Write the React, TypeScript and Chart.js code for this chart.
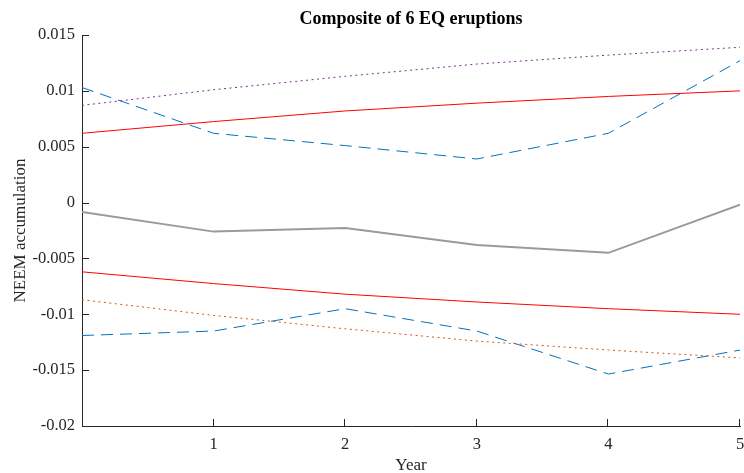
import React, { useEffect, useRef } from "react";
import { Chart, registerables } from "chart.js";

Chart.register(...registerables);

const years = [0, 1, 2, 3, 4, 5];
const compositeMean = [-0.00084, -0.0026, -0.00227, -0.0038, -0.0045, -0.0002];
const upperDashed = [0.0103, 0.0062, 0.0051, 0.0039, 0.0062, 0.0127];
const lowerDashed = [-0.0119, -0.0115, -0.0095, -0.0115, -0.01535, -0.0132];
const redUpper = [0.0062, 0.00725, 0.0082, 0.0089, 0.0095, 0.01];
const redLower = [-0.0062, -0.00725, -0.0082, -0.0089, -0.0095, -0.01];
const purpleUpper = [0.0087, 0.0101, 0.0113, 0.0124, 0.0132, 0.0139];
const orangeLower = [-0.0087, -0.0101, -0.0113, -0.0124, -0.0132, -0.0139];

const xTicks = [1, 2, 3, 4, 5];
const yTicks = [-0.02, -0.015, -0.01, -0.005, 0, 0.005, 0.01, 0.015];
const yTickLabels = ["-0.02", "-0.015", "-0.01", "-0.005", "0", "0.005", "0.01", "0.015"];

const titleText = "Composite of 6 EQ eruptions";
const xTitle = "Year";
const yTitle = "NEEM accumulation";

const AXIS_COLOR = "#262626";
const SERIF = "'Liberation Serif', 'Times New Roman', serif";

const pts = (ys: number[]) => years.map((x, i) => ({ x, y: ys[i] }));

export default function App() {
  const ref = useRef<HTMLCanvasElement | null>(null);

  useEffect(() => {
    if (!ref.current) return;

    const insideTicks = {
      id: "insideTicks",
      afterDraw(chart: any) {
        const ctx = chart.ctx;
        const xs = chart.scales.x;
        const ys = chart.scales.y;
        const area = chart.chartArea;
        ctx.save();
        ctx.strokeStyle = AXIS_COLOR;
        ctx.lineWidth = 1;
        ctx.beginPath();
        yTicks.forEach((v) => {
          const py = Math.round(ys.getPixelForValue(v)) + 0.5;
          ctx.moveTo(area.left, py);
          ctx.lineTo(area.left + 7, py);
        });
        xTicks.forEach((v) => {
          const px = Math.round(xs.getPixelForValue(v)) - 0.5;
          ctx.moveTo(px, area.bottom);
          ctx.lineTo(px, area.bottom - 7);
        });
        ctx.stroke();
        // title
        ctx.fillStyle = "#000";
        ctx.font = "bold 18px " + SERIF;
        ctx.textAlign = "center";
        ctx.textBaseline = "middle";
        ctx.fillText(titleText, (area.left + area.right) / 2, 19);
        ctx.restore();
      },
    };

    const chart = new Chart(ref.current, {
      type: "line",
      data: {
        datasets: [
          {
            label: "upper dotted",
            data: pts(purpleUpper),
            borderColor: "#7E2F8E",
            borderWidth: 1,
            borderDash: [2, 3.5],
            pointRadius: 0,
            fill: false,
          },
          {
            label: "lower dotted",
            data: pts(orangeLower),
            borderColor: "#D95319",
            borderWidth: 1,
            borderDash: [2, 3.5],
            pointRadius: 0,
            fill: false,
          },
          {
            label: "upper red",
            data: pts(redUpper),
            borderColor: "#FF0000",
            borderWidth: 1,
            pointRadius: 0,
            fill: false,
          },
          {
            label: "lower red",
            data: pts(redLower),
            borderColor: "#FF0000",
            borderWidth: 1,
            pointRadius: 0,
            fill: false,
          },
          {
            label: "upper dashed",
            data: pts(upperDashed),
            borderColor: "#0072BD",
            borderWidth: 1,
            borderDash: [12, 7],
            pointRadius: 0,
            fill: false,
          },
          {
            label: "lower dashed",
            data: pts(lowerDashed),
            borderColor: "#0072BD",
            borderWidth: 1,
            borderDash: [12, 7],
            pointRadius: 0,
            fill: false,
          },
          {
            label: "composite",
            data: pts(compositeMean),
            borderColor: "#9a9a9a",
            borderWidth: 2,
            pointRadius: 0,
            fill: false,
          },
        ],
      },
      options: {
        responsive: false,
        animation: false,
        layout: { padding: { top: 35, right: 4, bottom: 0, left: 0 } },
        plugins: {
          legend: { display: false },
          title: { display: false },
          tooltip: { enabled: false },
        },
        scales: {
          x: {
            type: "linear",
            min: 0,
            max: 5,
            grid: { display: false, drawTicks: false, tickLength: 0 },
            border: { display: true, color: AXIS_COLOR, width: 1 },
            afterBuildTicks: (s: any) => {
              s.ticks = xTicks.map((v) => ({ value: v }));
            },
            afterFit: (s: any) => {
              s.height = 47;
              s.paddingLeft = 0;
              s.paddingRight = 0;
            },
            ticks: {
              color: AXIS_COLOR,
              font: { family: SERIF, size: 16.5 },
              padding: 9,
              maxRotation: 0,
              callback: (v: any) => String(v),
            },
            title: {
              display: true,
              text: xTitle,
              color: AXIS_COLOR,
              font: { family: SERIF, size: 17 },
              padding: { top: 0, bottom: -3 },
            },
          },
          y: {
            type: "linear",
            min: -0.02,
            max: 0.015,
            grid: { display: false, drawTicks: false, tickLength: 0 },
            border: { display: true, color: AXIS_COLOR, width: 1 },
            afterBuildTicks: (s: any) => {
              s.ticks = yTicks.map((v) => ({ value: v }));
            },
            afterFit: (s: any) => {
              s.width = 82;
              s.paddingTop = 0;
              s.paddingBottom = 0;
            },
            ticks: {
              color: AXIS_COLOR,
              font: { family: SERIF, size: 16.5 },
              padding: 7,
              callback: (v: any) => {
                const i = yTicks.findIndex((t) => Math.abs(t - Number(v)) < 1e-9);
                return i >= 0 ? yTickLabels[i] : "";
              },
            },
            title: {
              display: true,
              text: yTitle,
              color: AXIS_COLOR,
              font: { family: SERIF, size: 17 },
              padding: { top: 10, bottom: 0 },
            },
          },
        },
      },
      plugins: [insideTicks],
    });

    return () => chart.destroy();
  }, []);

  return (
    <div style={{ position: "fixed", left: 0, top: 0, width: 744, height: 473, background: "#fff" }}>
      <canvas ref={ref} width={744} height={473} style={{ display: "block" }} />
    </div>
  );
}
